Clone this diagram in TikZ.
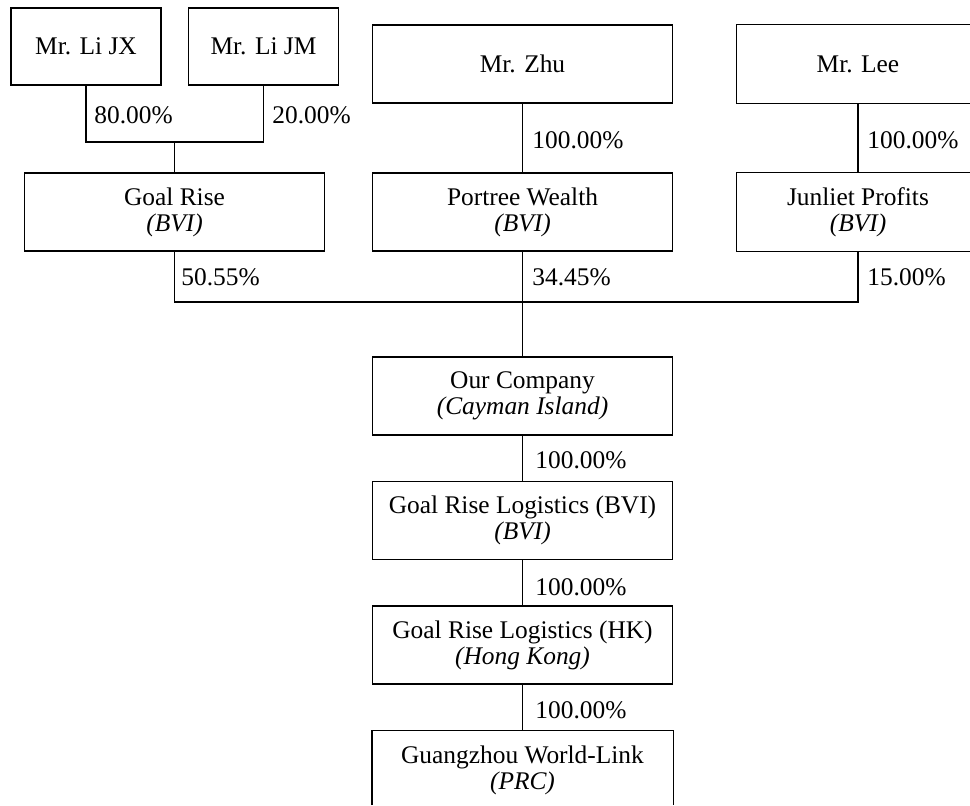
\documentclass[tikz,border=0pt]{standalone}
\usepackage{fontspec}
\setmainfont{Liberation Serif}

\begin{document}
\begin{tikzpicture}[x=0.5pt, y=-0.5pt,
        every node/.style={font=\fontsize{12.7}{13}\selectfont},
        firm/.style={draw, line width=0.7pt, minimum width=150pt, minimum height=39pt, inner sep=0pt, align=center},
        owner/.style={firm, minimum width=75pt, minimum height=38.5pt},
        cutfirm/.style={firm, draw=none},
        cutedge/.style={line width=0.7pt},
        share/.style={anchor=west, inner sep=0pt},
        link/.style={line width=0.6pt}]
        \useasboundingbox (0, 0) rectangle (970, 805);
        \coordinate (edge) at (970, 805);

        \node[owner] (lijx) at (86, 46.5) {Mr. Li JX};
        \node[owner] (lijm) at (263.5, 46.5) {Mr. Li JM};
        \node[firm] (zhu) at (522.5, 64) {Mr. Zhu};
        \node[cutfirm, minimum width=121pt] (lee) at (858, 64) {Mr. Lee};

        \node[firm] (goalrise) at (174.5, 212) {Goal Rise\\\textit{(BVI)}};
        \node[firm] (portree) at (522.5, 212) {Portree Wealth\\\textit{(BVI)}};
        \node[cutfirm, minimum width=121pt] (junliet) at (858, 212) {Junliet Profits\\\textit{(BVI)}};

        \node[firm] (ourco) at (522.5, 396) {Our Company\\\textit{(Cayman Island)}};
        \node[firm] (grlbvi) at (522.5, 520.5) {Goal Rise Logistics (BVI)\\\textit{(BVI)}};
        \node[firm] (grlhk) at (522.5, 645) {Goal Rise Logistics (HK)\\\textit{(Hong Kong)}};
        \node[cutfirm] (gzwl) at (522.5, 770) {Guangzhou World-Link\\\textit{(PRC)}};

        \draw[cutedge] (lee.north west -| edge) -- (lee.north west) -- (lee.south west) -- (lee.south west -| edge);
        \draw[cutedge] (junliet.north west -| edge) -- (junliet.north west) -- (junliet.south west) -- (junliet.south west -| edge);
        \draw[cutedge] (gzwl.west |- edge) -- (gzwl.north west) -- (gzwl.north east) -- (gzwl.east |- edge);

        \coordinate (lijoin) at (174.5, 142);
        \coordinate (topjoin) at (522.5, 302);
        \draw[link] (lijx.south) |- (lijoin) -| (lijm.south);
        \draw[link] (lijoin) -- (goalrise.north);
        \draw[link] (zhu.south) -- (portree.north);
        \draw[link] (lee.south) -- (junliet.north);
        \draw[link] (goalrise.south) |- (topjoin) -| (junliet.south);
        \draw[link] (portree.south) -- (ourco.north);
        \draw[link] (ourco.south) -- (grlbvi.north);
        \draw[link] (grlbvi.south) -- (grlhk.north);
        \draw[link] (grlhk.south) -- (gzwl.north);

        \node[share] (s-lijx) at (94, 115) {80.00\%};
        \node[share] (s-lijm) at (272, 115) {20.00\%};
        \node[share] (s-zhu) at (532, 140) {100.00\%};
        \node[share] (s-lee) at (867, 140) {100.00\%};
        \node[share] (s-goalrise) at (181, 277) {50.55\%};
        \node[share] (s-portree) at (532, 277) {34.45\%};
        \node[share] (s-junliet) at (867, 277) {15.00\%};
        \node[share] (s-ourco) at (535, 460) {100.00\%};
        \node[share] (s-grlbvi) at (535, 587) {100.00\%};
        \node[share] (s-grlhk) at (535, 710) {100.00\%};
    \end{tikzpicture}
\end{document}
